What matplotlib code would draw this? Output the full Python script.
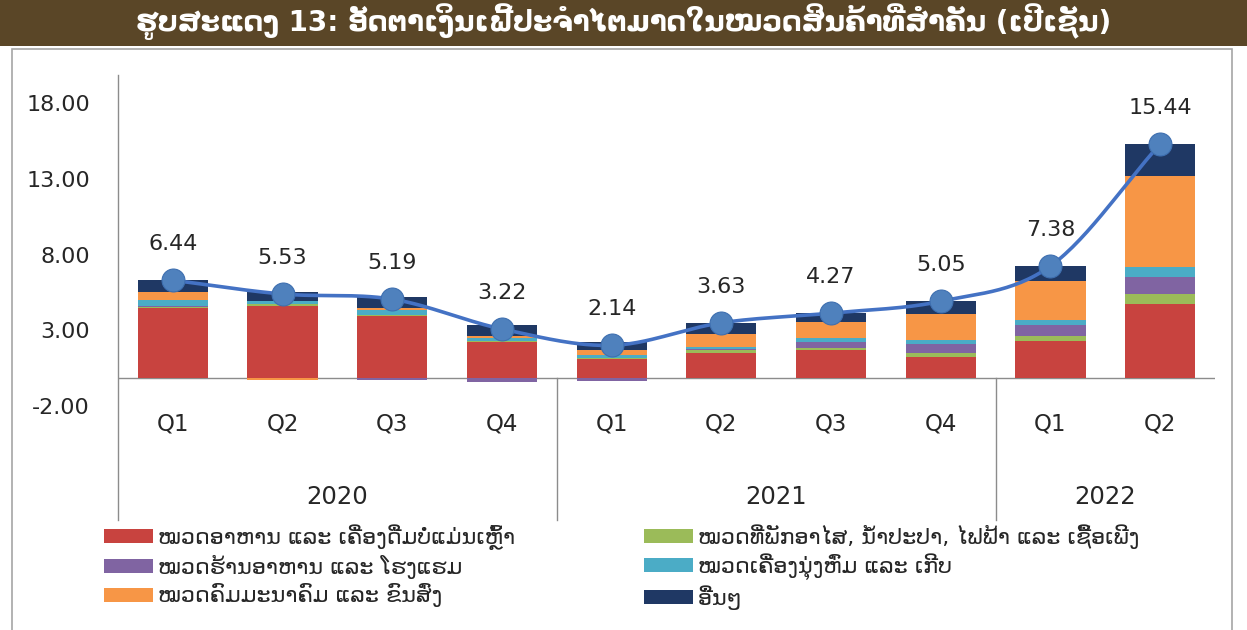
import numpy as np
import matplotlib
matplotlib.use('Agg')
import matplotlib.pyplot as plt
from matplotlib.patches import Rectangle, Patch
import matplotlib.transforms as mtransforms

# ---------------- data ----------------
quarters = ['Q1', 'Q2', 'Q3', 'Q4', 'Q1', 'Q2', 'Q3', 'Q4', 'Q1', 'Q2']
years = ['2020', '2021', '2022']
year_counts = [4, 4, 2]
total = [6.44, 5.53, 5.19, 3.22, 2.14, 3.63, 4.27, 5.05, 7.38, 15.44]
food = [4.60, 4.75, 4.10, 2.35, 1.25, 1.65, 1.80, 1.35, 2.40, 4.85]
housing = [0.08, 0.10, 0.05, 0.10, 0.05, 0.20, 0.15, 0.26, 0.37, 0.70]
restaurant = [0.08, 0.05, -0.17, -0.26, -0.22, 0.03, 0.40, 0.60, 0.70, 1.10]
clothing = [0.35, 0.20, 0.33, 0.18, 0.18, 0.15, 0.28, 0.28, 0.33, 0.66]
transport = [0.55, -0.15, 0.10, 0.15, 0.33, 0.83, 1.03, 1.75, 2.59, 6.03]
others = [0.78, 0.58, 0.78, 0.70, 0.55, 0.77, 0.61, 0.81, 0.99, 2.10]

title = "ຮູບສະແດງ 13: ອັດຕາເງິນເຟີ້ປະຈຳໄຕມາດໃນໝວດສິນຄ້າທີ່ສຳຄັນ (ເປີເຊັນ)"
lbl_food = "ໝວດອາຫານ ແລະ ເຄື່ອງດື່ມບໍ່ແມ່ນເຫຼົ້າ"
lbl_rest = "ໝວດຮ້ານອາຫານ ແລະ ໂຮງແຮມ"
lbl_trans = "ໝວດຄົມມະນາຄົມ ແລະ ຂົນສົ່ງ"
lbl_house = "ໝວດທີ່ພັກອາໄສ, ນ້ຳປະປາ, ໄຟຟ້າ ແລະ ເຊື້ອເພີງ"
lbl_cloth = "ໝວດເຄື່ອງນຸ່ງຫົ່ມ ແລະ ເກີບ"
lbl_other = "ອື່ນໆ"

# ---------------- style ----------------
C_FOOD = '#C8433F'
C_HOUSE = '#9BBB59'
C_REST = '#8064A2'
C_CLOTH = '#4BACC6'
C_TRANS = '#F79646'
C_OTHER = '#1F3864'
C_LINE = '#4472C4'
C_MARK = '#4F81BD'

W, H = 1247, 630
fig = plt.figure(figsize=(W / 100, H / 100), dpi=100)
fig.patch.set_facecolor('white')
plt.rcParams['font.family'] = ['DejaVu Sans']

def fx(px):
    return px / W

def fy(py):
    return 1 - py / H

# banner
fig.patches.append(Rectangle((0, fy(46)), 1, 46 / H, transform=fig.transFigure,
                             facecolor='#5A4627', edgecolor='none', zorder=0))
fig.text(0.5, fy(22), title, color='white', fontsize=20, fontweight='bold',
         ha='center', va='center')
# chart frame
fig.patches.append(Rectangle((fx(12), fy(640)), fx(1232 - 12), (640 - 49) / H,
                             transform=fig.transFigure, facecolor='none',
                             edgecolor='#A6A6A6', linewidth=1.2, zorder=0))

ax_left, ax_right, ax_top, ax_bot = 118, 1215, 75, 408
ax = fig.add_axes([fx(ax_left), fy(ax_bot), fx(ax_right - ax_left), (ax_bot - ax_top) / H])
ax.set_facecolor('none')

x = np.arange(len(total))
series = [(food, C_FOOD), (housing, C_HOUSE), (restaurant, C_REST),
          (clothing, C_CLOTH), (transport, C_TRANS), (others, C_OTHER)]
pos_b = np.zeros(len(x))
neg_b = np.zeros(len(x))
bw = 0.64
for vals, col in series:
    v = np.array(vals, dtype=float)
    bottoms = np.where(v >= 0, pos_b, neg_b)
    ax.bar(x, v, bw, bottom=bottoms, color=col, edgecolor='none', zorder=2)
    pos_b = pos_b + np.where(v >= 0, v, 0)
    neg_b = neg_b + np.where(v < 0, v, 0)

# smoothed line (Catmull-Rom through the totals)
t = np.array(total, dtype=float)
pts = np.column_stack([x, t])
ext = np.vstack([2 * pts[0] - pts[1], pts, 2 * pts[-1] - pts[-2]])
curve = []
for i in range(1, len(ext) - 2):
    p0, p1, p2, p3 = ext[i - 1], ext[i], ext[i + 1], ext[i + 2]
    for s in np.linspace(0, 1, 30, endpoint=False):
        s2, s3 = s * s, s * s * s
        c = 0.5 * ((2 * p1) + (-p0 + p2) * s + (2 * p0 - 5 * p1 + 4 * p2 - p3) * s2
                   + (-p0 + 3 * p1 - 3 * p2 + p3) * s3)
        curve.append(c)
curve.append(pts[-1])
curve = np.array(curve)
ax.plot(curve[:, 0], curve[:, 1], color=C_LINE, linewidth=2.6, zorder=3,
        solid_capstyle='round')
ax.plot(x, t, linestyle='none', marker='o', markersize=16.5, color=C_MARK,
        markeredgecolor='#3E6FB0', markeredgewidth=0.8, zorder=4)
for xi, ti in zip(x, t):
    ax.annotate(f"{ti:.2f}", (xi, ti), xytext=(0, 26), textcoords='offset points',
                ha='center', va='center', fontsize=16, color='#262626', zorder=5)

ax.set_xlim(-0.5, len(x) - 0.5)
ax.set_ylim(-2, 20)
yt = [-2, 3, 8, 13, 18]
ax.set_yticks(yt)
ax.set_yticklabels([f"{v:.2f}" for v in yt], va='center')
ax.tick_params(axis='y', length=0, pad=28 * 0.72, labelsize=16, labelcolor='#262626')
ax.set_xticks(x)
ax.set_xticklabels(quarters)
ax.tick_params(axis='x', length=0, pad=3.5, labelsize=16.5, labelcolor='#262626')
for sp in ax.spines.values():
    sp.set_visible(False)
ax.axhline(0, color='#8C8C8C', linewidth=1.0, zorder=1)

btr = mtransforms.blended_transform_factory(ax.transData, ax.transAxes)
low = (ax_bot - 520) / (ax_bot - ax_top)
zero_frac = (0 - (-2)) / 22
ax.plot([-0.5, -0.5], [low, 1.0], transform=btr, color='#8C8C8C', lw=1.0,
        clip_on=False, zorder=1)
start = 0
for yr, n in zip(years, year_counts):
    ax.text(start + (n - 1) / 2, (ax_bot - 497) / (ax_bot - ax_top), yr, transform=btr,
            ha='center', va='center', fontsize=17.5, color='#262626')
    start += n
    if start < len(x):
        ax.plot([start - 0.5, start - 0.5], [low, zero_frac], transform=btr,
                color='#8C8C8C', lw=1.0, clip_on=False, zorder=1)

# legends
def mk(col, lab):
    return Patch(facecolor=col, edgecolor='none', label=lab)

leg_kw = dict(frameon=False, fontsize=16, handlelength=2.2, handleheight=0.6,
              handletextpad=0.25, labelspacing=0.22, borderpad=0, borderaxespad=0,
              loc='upper left')
leg1 = fig.legend(handles=[mk(C_FOOD, lbl_food), mk(C_REST, lbl_rest), mk(C_TRANS, lbl_trans)],
                  bbox_to_anchor=(fx(104), fy(524)), **leg_kw)
leg2 = fig.legend(handles=[mk(C_HOUSE, lbl_house), mk(C_CLOTH, lbl_cloth), mk(C_OTHER, lbl_other)],
                  bbox_to_anchor=(fx(644), fy(524)), **leg_kw)
for lg in (leg1, leg2):
    for tx in lg.get_texts():
        tx.set_color('#262626')

fig.savefig('out.png', dpi=100)
